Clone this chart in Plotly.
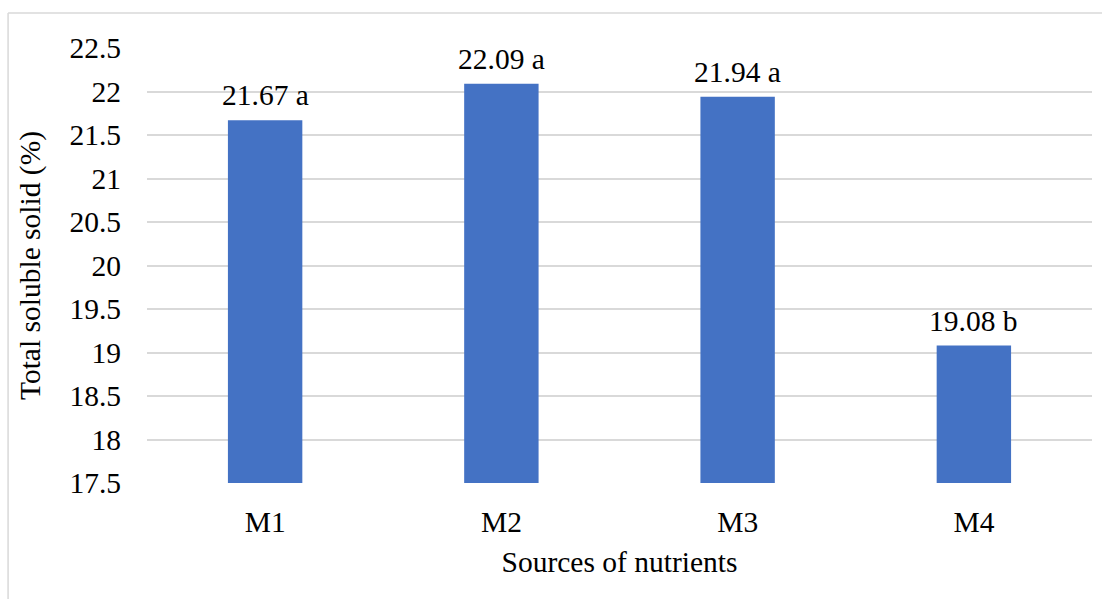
import plotly.graph_objects as go

# Total soluble solid by nutrient source
sources = ["M1", "M2", "M3", "M4"]
tss_values = [21.67, 22.09, 21.94, 19.08]
letters = ["a", "a", "a", "b"]
y_ticks = [17.5, 18, 18.5, 19, 19.5, 20, 20.5, 21, 21.5, 22, 22.5]
y_tick_text = ["17.5", "18", "18.5", "19", "19.5", "20", "20.5", "21", "21.5", "22", "22.5"]

FONT = "'Times New Roman', 'Liberation Serif', serif"
SIZE = 29.5

labels = [f"{v:.2f} {l}" for v, l in zip(tss_values, letters)]

fig = go.Figure(
    go.Bar(
        x=sources,
        y=tss_values,
        marker=dict(color="#4472C4", line=dict(width=0)),
        width=0.315,
        hoverinfo="x+y",
    )
)

# value labels above each bar
for src, val, txt in zip(sources, tss_values, labels):
    fig.add_annotation(
        x=src, y=val, text=txt, showarrow=False,
        xanchor="center", yanchor="bottom", yshift=7,
        font=dict(family=FONT, size=SIZE, color="#000000"),
    )

fig.update_layout(
    width=1102,
    height=599,
    margin=dict(l=147, r=10, t=48, b=116),
    paper_bgcolor="white",
    plot_bgcolor="white",
    showlegend=False,
    font=dict(family=FONT, size=SIZE, color="#000000"),
    xaxis=dict(
        showgrid=False,
        showline=False,
        ticks="",
        ticklabelstandoff=18,
        tickfont=dict(family=FONT, size=SIZE),
        title=dict(text="Sources of nutrients", standoff=14,
                   font=dict(family=FONT, size=SIZE)),
    ),
    yaxis=dict(
        range=[17.5, 22.5],
        tickvals=y_ticks,
        ticktext=y_tick_text,
        showgrid=True,
        gridcolor="#d9d9d9",
        gridwidth=1.5,
        zeroline=False,
        showline=False,
        ticks="",
        ticklabelstandoff=25,
        tickfont=dict(family=FONT, size=SIZE),
        title=dict(text="Total soluble solid (%)", standoff=20,
                   font=dict(family=FONT, size=SIZE)),
    ),
    shapes=[
        # chart frame: top and left edges
        dict(type="line", xref="paper", yref="paper",
             x0=-0.147, x1=1.05, y0=1.0805, y1=1.0805,
             line=dict(color="#d9d9d9", width=1.5)),
        dict(type="line", xref="paper", yref="paper",
             x0=-0.147, x1=-0.147, y0=1.0805, y1=-0.4,
             line=dict(color="#d9d9d9", width=1.5)),
    ],
)

fig.write_html("out.html")
